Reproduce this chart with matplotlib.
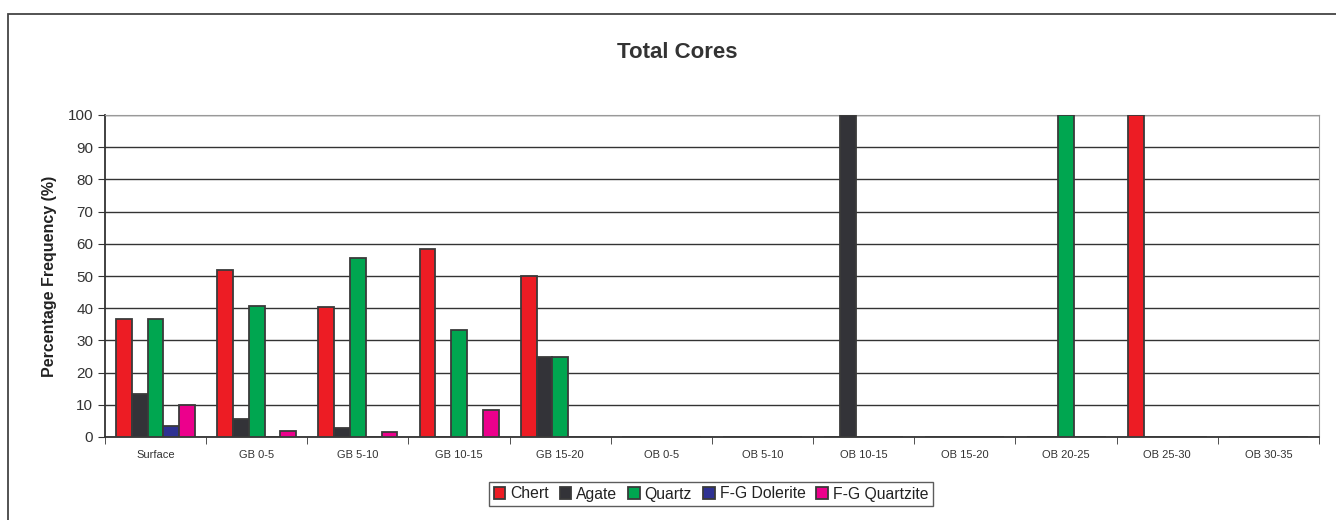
import matplotlib.pyplot as plt
import numpy as np
from matplotlib.patches import Rectangle

plt.rcParams['font.family'] = ['Liberation Sans', 'DejaVu Sans']

categories = ["Surface", "GB 0-5", "GB 5-10", "GB 10-15", "GB 15-20", "OB 0-5",
              "OB 5-10", "OB 10-15", "OB 15-20", "OB 20-25", "OB 25-30", "OB 30-35"]
chert = [36.7, 51.9, 40.3, 58.3, 50.0, 0, 0, 0, 0, 0, 100, 0]
agate = [13.3, 5.6, 2.9, 0, 25.0, 0, 0, 100, 0, 0, 0, 0]
quartz = [36.7, 40.7, 55.7, 33.3, 25.0, 0, 0, 0, 0, 100, 0, 0]
fg_dolerite = [3.3, 0, 0, 0, 0, 0, 0, 0, 0, 0, 0, 0]
fg_quartzite = [10.0, 1.9, 1.4, 8.3, 0, 0, 0, 0, 0, 0, 0, 0]

series = [("Chert", chert, "#ed1c24"),
          ("Agate", agate, "#333338"),
          ("Quartz", quartz, "#00a650"),
          ("F-G Dolerite", fg_dolerite, "#2e3192"),
          ("F-G Quartzite", fg_quartzite, "#ec008c")]

fig = plt.figure(figsize=(13.36, 5.2), dpi=100)
ax = fig.add_axes([105 / 1336, 83 / 520, 1214 / 1336, 322 / 520])

# outer chart border (cut off on right and bottom)
fig.patches.append(Rectangle((8 / 1336, -0.1), 1.2, 1 - 14 / 520 + 0.1,
                             transform=fig.transFigure, fill=False,
                             edgecolor="#444444", linewidth=1.3))

x = np.arange(len(categories))
w = 0.156
for i, (name, vals, col) in enumerate(series):
    ax.bar(x + (i - 2) * w, vals, width=w, color=col, edgecolor="#3a3a3a",
           linewidth=1.3, label=name, zorder=3)

ax.set_xlim(-0.5, len(categories) - 0.5)
ax.set_ylim(0, 100)
ax.set_yticks(np.arange(0, 101, 10))
ax.yaxis.grid(True, color="#333333", linewidth=1.0, zorder=0)
ax.set_axisbelow(True)

ax.set_xticks(x)
ax.set_xticklabels(categories, fontsize=8, color="#333333")
ax.set_xticks(np.arange(-0.5, len(categories), 1), minor=True)
ax.tick_params(axis="x", which="major", length=0, pad=9)
ax.tick_params(axis="x", which="minor", length=5, direction="out", color="#333333")
ax.tick_params(axis="y", length=5, direction="out", color="#333333",
               labelsize=11, labelcolor="#333333")

for s in ("top", "right"):
    ax.spines[s].set_color("#999999")
for s in ("left", "bottom"):
    ax.spines[s].set_color("#333333")
    ax.spines[s].set_linewidth(1.3)

ax.set_ylabel("Percentage Frequency (%)", fontsize=11.5, fontweight="bold",
              labelpad=8, color="#222222")
fig.text(677 / 1336, 1 - 53 / 520, "Total Cores", ha="center", va="center",
         fontsize=16, fontweight="bold", color="#333333")

leg = fig.legend(loc="center", bbox_to_anchor=(711 / 1336, 1 - 494 / 520), ncol=5,
                 fontsize=11.3, frameon=True, fancybox=False, edgecolor="#333333",
                 handlelength=0.75, handleheight=0.75, handletextpad=0.3,
                 columnspacing=0.7, borderpad=0.3, borderaxespad=0)
leg.get_frame().set_linewidth(1.0)
for t in leg.get_texts():
    t.set_color("#222222")

fig.savefig("out.png", dpi=100)
